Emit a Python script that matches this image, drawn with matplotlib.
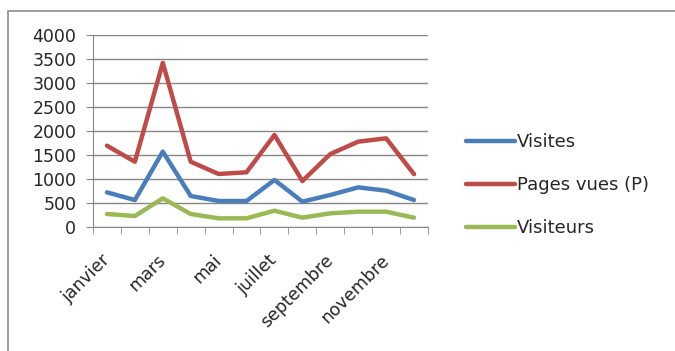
import matplotlib.pyplot as plt
from matplotlib.patches import Rectangle

plt.rcParams['font.family'] = ['DejaVu Sans']
plt.rcParams['text.color'] = '#262626'
plt.rcParams['xtick.color'] = '#262626'
plt.rcParams['ytick.color'] = '#262626'

mois = ['janvier', 'février', 'mars', 'avril', 'mai', 'juin',
        'juillet', 'août', 'septembre', 'octobre', 'novembre', 'décembre']
visites = [722, 562, 1570, 646, 542, 542, 980, 528, 667, 826, 757, 562]
pages_vues = [1694, 1360, 3420, 1360, 1104, 1140, 1917, 958, 1520, 1778, 1847, 1100]
visiteurs = [271, 229, 597, 271, 181, 181, 340, 194, 285, 319, 319, 194]

fig = plt.figure(figsize=(6.75, 3.51), dpi=100)
# cadre gris autour du graphique
fig.patches.append(Rectangle((8 / 675, -0.05), 1.0, 1 - 11 / 351 + 0.05,
                             transform=fig.transFigure, fill=False,
                             edgecolor='#8c8c8c', linewidth=1.2))

ax = fig.add_axes([93 / 675, 1 - 227 / 351, (428 - 93) / 675, (227 - 35) / 351])
x = range(len(mois))
ax.plot(x, visites, color='#4A7EBB', lw=3.2, label='Visites', solid_capstyle='round')
ax.plot(x, pages_vues, color='#BE4B48', lw=3.2, label='Pages vues (P)', solid_capstyle='round')
ax.plot(x, visiteurs, color='#98B954', lw=3.2, label='Visiteurs', solid_capstyle='round')

ax.set_xlim(-0.5, len(mois) - 0.5)
ax.set_ylim(0, 4000)
ax.set_yticks(range(0, 4001, 500))
ax.yaxis.grid(True, color='#878787', lw=1)
ax.set_axisbelow(True)

ax.set_xticks(list(x)[::2])
ax.set_xticklabels(mois[::2], rotation=45, ha='right', va='center',
                   rotation_mode='anchor', fontsize=12.5)
ax.set_xticks([i - 0.5 for i in range(len(mois) + 1)], minor=True)
ax.tick_params(axis='x', which='major', length=0, pad=22)
ax.tick_params(axis='x', which='minor', length=5, color='#878787', direction='out')
ax.tick_params(axis='y', length=5, color='#878787', pad=7, labelsize=12.5)

for side in ['top', 'right']:
    ax.spines[side].set_visible(False)
for side in ['left', 'bottom']:
    ax.spines[side].set_color('#878787')

fig.legend(loc='upper left', bbox_to_anchor=(450 / 675, 1 - 117 / 351),
           frameon=False, fontsize=13, handlelength=2.7, handletextpad=0.1,
           labelspacing=1.38)

fig.savefig('out.png', dpi=100)
